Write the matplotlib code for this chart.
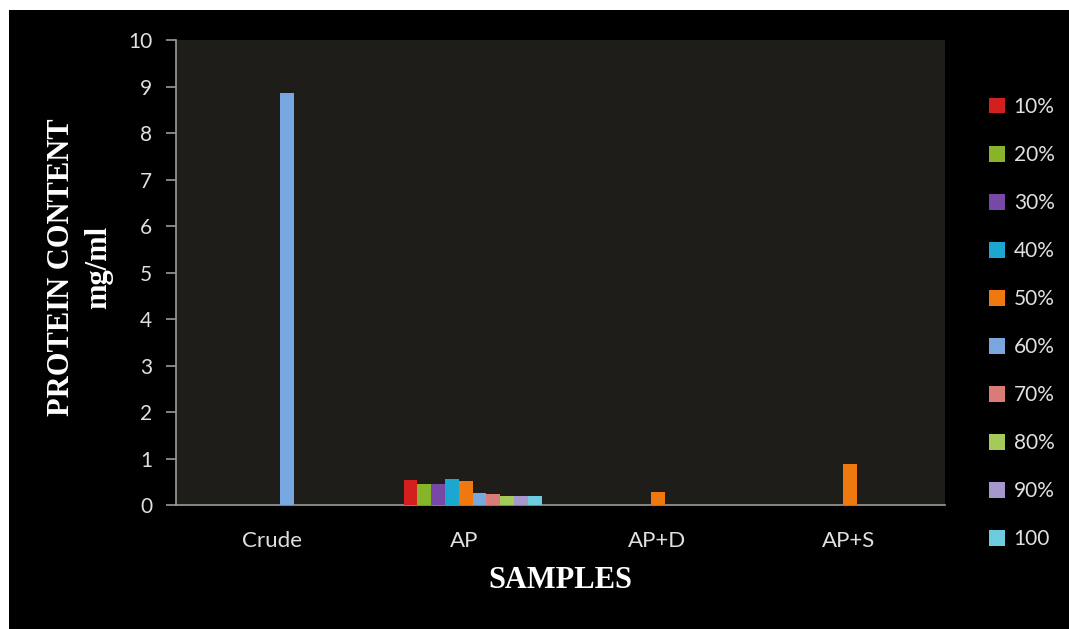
import matplotlib
matplotlib.use('Agg')
import matplotlib.pyplot as plt
import matplotlib.patches as mpatches
import numpy as np


samples = ['Crude', 'AP', 'AP+D', 'AP+S']
series = ['10%', '20%', '30%', '40%', '50%', '60%', '70%', '80%', '90%', '100']

# one value per sample for each series (0 = no bar)
v10 = [0, 0.54, 0, 0]
v20 = [0, 0.45, 0, 0]
v30 = [0, 0.46, 0, 0]
v40 = [0, 0.57, 0, 0]
v50 = [0, 0.51, 0.28, 0.88]
v60 = [8.86, 0.26, 0, 0]
v70 = [0, 0.24, 0, 0]
v80 = [0, 0.20, 0, 0]
v90 = [0, 0.20, 0, 0]
v100 = [0, 0.20, 0, 0]
values = [v10, v20, v30, v40, v50, v60, v70, v80, v90, v100]

colors = ['#d41f1f', '#86b52a', '#7748a6', '#1ba7cf', '#f0790f',
          '#78a6de', '#d97b76', '#a4cb5a', '#a698cc', '#6dcbe0']

yticks = list(range(0, 11))

w, h = 10.69, 6.29
plt.rcParams["figure.figsize"] = [w, h]
plt.rcParams["font.family"] = ['Lato', 'DejaVu Sans']

fig = plt.figure(dpi=100, facecolor='white')
# black card with a thin white margin on the top and left
fig.patches.append(mpatches.Rectangle((9/1069, 0), 1, 1 - 10/629, transform=fig.transFigure,
                                      facecolor='black', edgecolor='none', zorder=-10))

ax = fig.add_axes([0.1646, 0.1971, 0.7194, 0.7393])
ax.set_facecolor('#1f1d19')

x = np.arange(len(samples))
bw = 0.0718
for i, (name, vals) in enumerate(zip(series, values)):
    ax.bar(x + (i - 3.9) * bw, vals, width=bw, color=colors[i], label=name,
           edgecolor='none', zorder=3)

ax.set_xlim(-0.5, len(samples) - 0.5)
ax.set_ylim(0, 10)
ax.set_yticks(yticks)
ax.set_yticklabels([str(t) for t in yticks])
ax.set_xticks(x)
ax.set_xticklabels(samples)

for s in ['top', 'right']:
    ax.spines[s].set_visible(False)
for s in ['left', 'bottom']:
    ax.spines[s].set_color('#9a9a9a')
    ax.spines[s].set_linewidth(1.2)

ax.tick_params(axis='y', colors='#9a9a9a', labelcolor='#e0e0e0', labelsize=15,
               length=7, width=1.2, pad=10)
ax.tick_params(axis='x', labelcolor='#e0e0e0', labelsize=16, length=0, pad=19)

fig.text(80/1069, 1 - 267/629, 'PROTEIN CONTENT\nmg/ml', rotation=90, ha='center', va='center',
         multialignment='center', family='Liberation Serif', fontweight='bold', fontsize=22,
         color='white', linespacing=1.35)
fig.text(560/1069, 1 - 580/629, 'SAMPLES', ha='center', va='center',
         family='Liberation Serif', fontweight='bold', fontsize=22, color='white')

leg = fig.legend(loc='upper left', bbox_to_anchor=(970/1069, 1 - 78/629), frameon=False,
                 fontsize=15, labelspacing=1.345, handlelength=0.8, handleheight=0.8,
                 handletextpad=0.4)
for t in leg.get_texts():
    t.set_color('#e0e0e0')

plt.savefig('out.png', dpi=100, facecolor=fig.get_facecolor())
